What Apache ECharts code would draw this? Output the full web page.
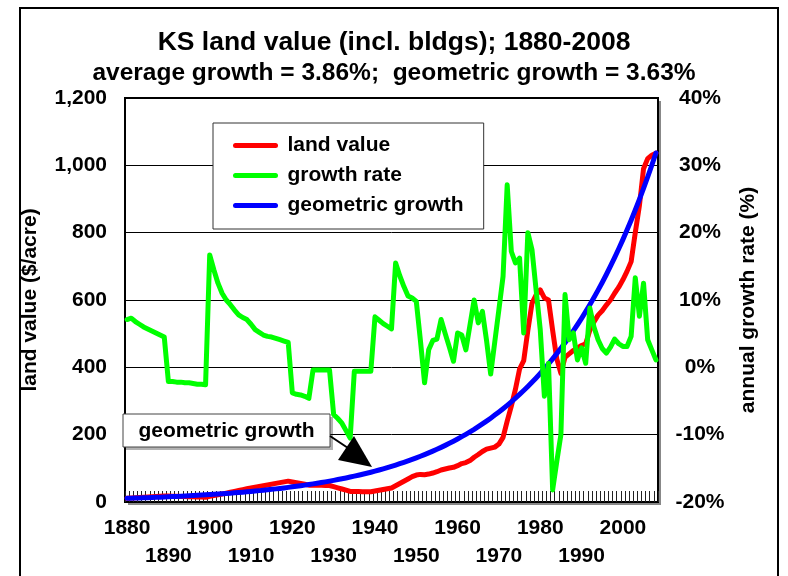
<!DOCTYPE html>
<html>
<head>
<meta charset="utf-8">
<script src="https://cdn.jsdelivr.net/npm/echarts@6/dist/echarts.min.js"></script>
<style>
  html, body { margin: 0; padding: 0; background: #fff; }
  #main { width: 788px; height: 576px; }
</style>
</head>
<body>
<div id="main"></div>
<script>
// 年份（类目轴）
var startYear = 1880, endYear = 2008;
var years = [];
for (var y = startYear; y <= endYear; y++) years.push(String(y));

// land value ($/acre), 1880-2008
var landValue = [
  10.8, 11.6, 12.4, 13.2, 14.0, 14.8, 15.6, 16.4, 17.2, 17.9,
  17.5, 17.2, 16.8, 16.4, 16.1, 15.7, 15.3, 14.9, 14.6, 14.2,
  16.6, 19.0, 21.5, 23.9, 26.3, 28.8, 31.4, 34.0, 36.6, 39.2,
  41.7, 44.0, 46.3, 48.5, 50.7, 53.0, 55.3, 57.6, 59.8, 62.0,
  59.6, 57.3, 54.9, 52.6, 50.1, 49.9, 49.7, 49.5, 49.3, 49.1,
  45.7, 42.2, 38.7, 35.1, 31.4, 31.2, 31.0, 30.8, 30.6, 30.4,
  32.7, 35.0, 37.3, 39.6, 41.8, 48.3, 55.0, 61.7, 68.4, 75.4,
  80, 82, 81, 83, 86, 90, 95, 98, 101, 103,
  108, 114, 117, 123, 133, 141, 150, 157, 160, 163,
  172, 192, 240, 285, 335, 395, 420, 510, 590, 615,
  630, 606, 600, 510, 425, 382, 430, 440, 450, 458,
  465, 470, 510, 535, 555, 568, 585, 600, 620, 638,
  660, 685, 714, 800, 880, 990, 1020, 1030, 1036
];

// annual growth rate (%)
var growthRate = [
  7.1, 7.3, 6.8, 6.4, 6.0, 5.7, 5.4, 5.1, 4.8, 4.5,
  -2.1, -2.1, -2.2, -2.2, -2.3, -2.3, -2.4, -2.5, -2.5, -2.6,
  16.7, 14.5, 12.5, 11.0, 10.0, 9.3, 8.5, 7.8, 7.4, 7.1,
  6.4, 5.6, 5.2, 4.8, 4.6, 4.5, 4.3, 4.1, 3.9, 3.7,
  -3.8, -4.0, -4.1, -4.3, -4.6, -0.4, -0.4, -0.4, -0.4, -0.4,
  -7.0, -7.6, -8.3, -9.4, -10.5, -0.6, -0.6, -0.6, -0.6, -0.6,
  7.5, 7.0, 6.5, 6.1, 5.7, 15.5, 13.6, 12.0, 10.6, 10.3,
  9.8, 4.0, -2.3, 2.6, 4.0, 4.2, 7.1, 5.0, 3.0, 0.9,
  5.1, 4.8, 2.6, 6.3, 10.0, 6.6, 8.3, 4.0, -1.0, 3.8,
  8.6, 13.5, 27.1, 17.2, 15.5, 16.2, 5.1, 20.0, 17.5, 11.5,
  5.6, -4.3, 0.6, -18.2, -14.0, -10.0, 10.8, 4.1, 5.1, 1.1,
  2.9, 0.6, 8.8, 6.0, 4.1, 2.8, 2.1, 3.0, 4.2, 3.5,
  3.1, 3.1, 4.6, 13.3, 7.6, 12.5, 4.1, 2.6, 1.1
];

// geometric growth ($/acre)
var geometricGrowth = [
  10.8, 11.2, 11.6, 12.0, 12.5, 12.9, 13.4, 13.9, 14.4, 14.9,
  15.4, 16.0, 16.6, 17.2, 17.8, 18.4, 19.1, 19.8, 20.5, 21.3,
  22.0, 22.8, 23.7, 24.5, 25.4, 26.3, 27.3, 28.3, 29.3, 30.4,
  31.5, 32.6, 33.8, 35.0, 36.3, 37.6, 39.0, 40.4, 41.9, 43.4,
  45.0, 46.6, 48.3, 50.1, 51.9, 53.8, 55.7, 57.7, 59.8, 62.0,
  64.2, 66.6, 69.0, 71.5, 74.1, 76.8, 79.6, 82.5, 85.4, 88.5,
  91.8, 95.1, 98.5, 102.1, 105.8, 109.7, 113.7, 117.8, 122.1, 126.5,
  131.1, 135.8, 140.8, 145.9, 151.2, 156.7, 162.3, 168.2, 174.3, 180.7,
  187.2, 194.0, 201.1, 208.4, 215.9, 223.8, 231.9, 240.3, 249.0, 258.1,
  267.4, 277.1, 287.2, 297.6, 308.4, 319.6, 331.2, 343.2, 355.7, 368.6,
  382.0, 395.9, 410.2, 425.1, 440.6, 456.5, 473.1, 490.3, 508.1, 526.5,
  545.6, 565.4, 586.0, 607.2, 629.3, 652.1, 675.8, 700.3, 725.7, 752.1,
  779.4, 807.7, 837.0, 867.4, 898.9, 931.5, 965.3, 1000.3, 1036.7
];

var font = "'Liberation Sans', Arial, sans-serif";
var txt = { fontFamily: font, fontWeight: "bold", color: "#000", fontSize: 21 };

var myChart = echarts.init(document.getElementById("main"));

// 两行错开的年份标签：上行 1880,1900,...；下行 1890,1910,...
function decadeAxis(rowOffset, margin, showLine) {
  return {
    type: "category",
    data: years,
    boundaryGap: true,
    gridIndex: 0,
    position: "bottom",
    axisLine: { show: showLine, lineStyle: { color: "#000", width: 2 } },
    axisTick: { show: showLine, inside: true, length: 11, interval: 0, lineStyle: { color: "#222", width: 1 } },
    axisLabel: Object.assign({}, txt, {
      interval: function (i, v) { return (+v - startYear) % 20 === rowOffset; },
      margin: margin
    }),
    splitLine: { show: false }
  };
}

var option = {
  backgroundColor: "#fff",
  animation: false,
  title: [
    {
      text: "KS land value (incl. bldgs); 1880-2008",
      left: "center",
      top: 29,
      padding: 0,
      textStyle: { fontFamily: font, fontWeight: "bold", fontSize: 26.5, color: "#000" }
    },
    {
      text: "average growth = 3.86%;  geometric growth = 3.63%",
      left: "center",
      top: 61,
      padding: 0,
      textStyle: { fontFamily: font, fontWeight: "bold", fontSize: 24.5, color: "#000" }
    }
  ],
  legend: {
    orient: "vertical",
    left: 213,
    top: 123,
    padding: [12, 20, 13, 20],
    backgroundColor: "#fff",
    borderColor: "#333",
    borderWidth: 1,
    itemWidth: 40,
    itemHeight: 4,
    itemGap: 9,
    lineStyle: { width: 5, cap: "round" },
    textStyle: Object.assign({}, txt, { padding: [0, 0, 0, 7] }),
    data: ["land value", "growth rate", "geometric growth"]
  },
  grid: {
    left: 125,
    top: 98,
    width: 533,
    height: 404,
    show: true,
    backgroundColor: "#fff",
    borderColor: "#000",
    borderWidth: 2
  },
  xAxis: [decadeAxis(0, 16, true), decadeAxis(10, 44, false)],
  yAxis: [
    {
      type: "value",
      min: 0,
      max: 1200,
      interval: 200,
      position: "left",
      name: "land value ($/acre)",
      nameLocation: "middle",
      nameGap: 84,
      nameRotate: 90,
      nameTextStyle: txt,
      axisLine: { show: true, lineStyle: { color: "#000", width: 2 } },
      axisTick: { show: false },
      axisLabel: Object.assign({}, txt, {
        margin: 18,
        formatter: function (v) { return String(v).replace(/\B(?=(\d{3})+(?!\d))/g, ","); }
      }),
      splitLine: { lineStyle: { color: "#000", width: 1 } }
    },
    {
      type: "value",
      min: -20,
      max: 40,
      interval: 10,
      position: "right",
      name: "annual growth rate (%)",
      nameLocation: "middle",
      nameGap: 80,
      nameRotate: 90,
      nameTextStyle: txt,
      axisLine: { show: false },
      axisTick: { show: false },
      axisLabel: Object.assign({}, txt, { align: "center", margin: 42, formatter: "{value}%" }),
      splitLine: { show: false }
    }
  ],
  series: [
    {
      name: "land value",
      type: "line",
      xAxisIndex: 0,
      yAxisIndex: 0,
      data: landValue,
      symbol: "none",
      z: 2,
      itemStyle: { color: "#ff0000" },
      lineStyle: { color: "#ff0000", width: 5, cap: "round", join: "round" }
    },
    {
      name: "geometric growth",
      type: "line",
      xAxisIndex: 0,
      yAxisIndex: 0,
      data: geometricGrowth,
      symbol: "none",
      z: 3,
      itemStyle: { color: "#0000ff" },
      lineStyle: { color: "#0000ff", width: 5, cap: "round", join: "round" }
    },
    {
      name: "growth rate",
      type: "line",
      xAxisIndex: 0,
      yAxisIndex: 1,
      data: growthRate,
      symbol: "none",
      z: 4,
      itemStyle: { color: "#00ff00" },
      lineStyle: { color: "#00ff00", width: 5, cap: "round", join: "round" }
    }
  ],
  graphic: [
    // 绘图区阴影
    { type: "rect", z: -10, silent: true, shape: { x: 128, y: 101, width: 533, height: 404 },
      style: { fill: "#888" } },
    // 外框
    { type: "rect", z: 100, silent: true, shape: { x: 20, y: 8, width: 758, height: 620 },
      style: { fill: "none", stroke: "#000", lineWidth: 2 } },
    // 注释框 "geometric growth"
    { type: "rect", z: 100, silent: true, shape: { x: 126, y: 417, width: 207, height: 33 },
      style: { fill: "rgba(0,0,0,0.3)" } },
    { type: "rect", z: 101, silent: true, shape: { x: 123, y: 414, width: 207, height: 33 },
      style: { fill: "#fff", stroke: "#444", lineWidth: 1 } },
    { type: "text", z: 102, silent: true, x: 226.5, y: 431,
      style: { text: "geometric growth", fontFamily: font, fontWeight: "bold", fontSize: 21,
               fill: "#000", align: "center", verticalAlign: "middle" } },
    // 箭头
    { type: "line", z: 101, silent: true, shape: { x1: 330, y1: 436, x2: 348, y2: 448 },
      style: { stroke: "#000", lineWidth: 2 } },
    { type: "polygon", z: 101, silent: true, shape: { points: [[354, 436], [338, 460], [372, 467]] },
      style: { fill: "#000" } }
  ]
};

myChart.setOption(option);
</script>
</body>
</html>
